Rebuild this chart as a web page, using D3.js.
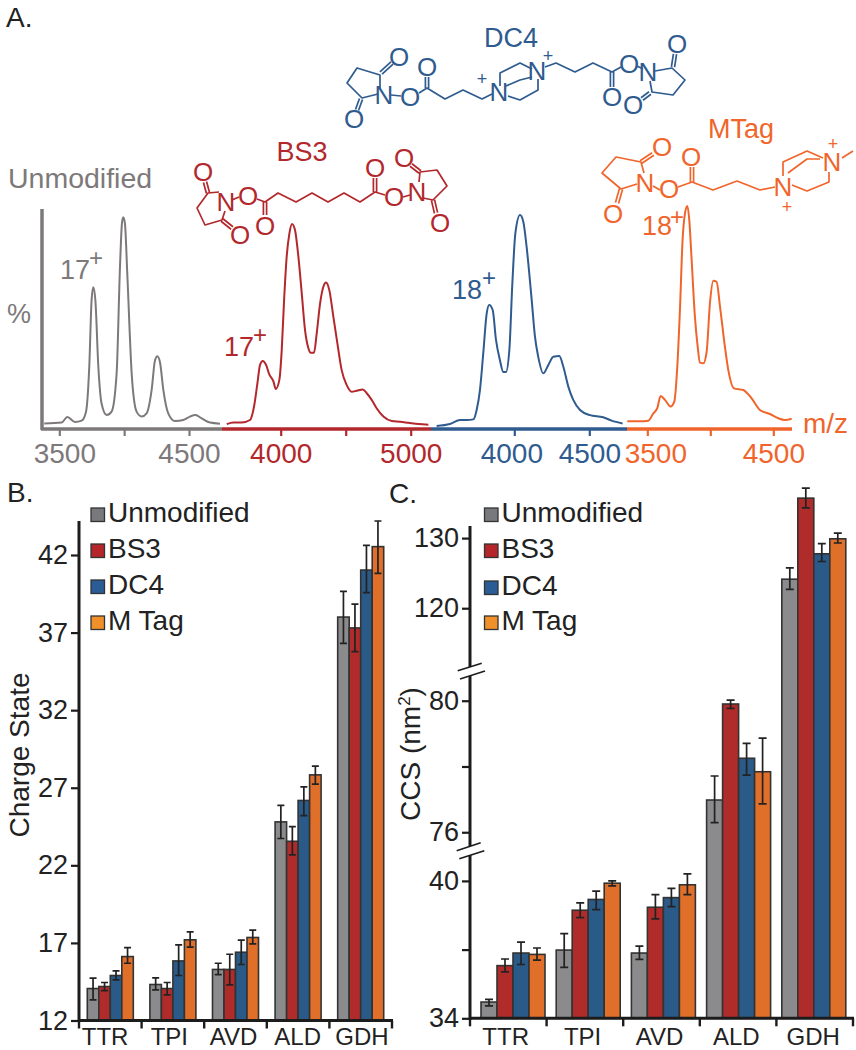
<!DOCTYPE html>
<html><head><meta charset="utf-8">
<script src="https://cdn.jsdelivr.net/npm/d3@7"></script>
<style>
html,body{margin:0;padding:0;background:#fff}
svg{display:block}
text{font-family:"Liberation Sans",Arial,sans-serif}
</style></head><body><svg id="c" width="856" height="1050"></svg>
<script>
// ---------- DATA ----------
const categories = ["TTR","TPI","AVD","ALD","GDH"];
const seriesNames = ["Unmodified","BS3","DC4","M Tag"];
const legendColors = ["#77797c","#b5262a","#2a5d95","#f0902a"];
const barColors = ["#8b8b8d","#b02c2a","#2a5a87","#e06f2a"];

// Panel B: charge state, one array per series, in category order
const chargeUnmodified = [14.06,14.32,15.29,24.80,38.00];
const chargeBS3        = [14.19,14.06,15.29,23.55,37.30];
const chargeDC4        = [14.90,15.84,16.40,26.18,41.03];
const chargeMTag       = [16.12,17.20,17.35,27.83,42.54];
const chargeHigh = [[14.73,14.75,15.69,25.87,39.66],[14.45,14.45,16.27,24.50,38.84],[15.20,16.88,17.18,27.06,42.62],[16.70,17.71,17.82,28.40,44.19]];
const chargeLow  = [[13.33,13.98,14.96,23.73,36.31],[13.93,13.65,14.30,22.67,35.77],[14.62,14.90,15.61,25.20,39.57],[15.69,16.73,16.94,27.23,40.82]];
const chargeTicks = [12,17,22,27,32,37,42];

// Panel C: CCS
const ccsUnmodified = [34.71,36.98,36.85,76.98,124.14];
const ccsBS3        = [36.30,38.72,38.85,79.90,135.70];
const ccsDC4        = [36.85,39.19,39.27,78.25,127.76];
const ccsMTag       = [36.79,39.90,39.83,77.84,129.90];
const ccsHigh = [[34.83,37.70,37.15,77.71,125.76],[36.59,39.04,39.40,80.02,137.14],[37.33,39.55,39.67,78.70,129.20],[37.07,40.00,40.31,78.86,130.70]];
const ccsLow  = [[34.54,36.22,36.57,76.29,122.70],[36.03,38.40,38.34,79.77,134.30],[36.35,38.75,38.88,77.74,126.66],[36.54,39.78,39.40,76.86,129.30]];
const ccsTicks = [34,37,40,76,78,80,120,130];
const ccsLabelled = [34,40,76,80,120,130];

// Panel A: spectra as [m/z, % intensity]
const specUnmodified = [[3384,2.6],[3518,3],[3562,5.6],[3621,3.3],[3672,3.9],[3706,8.1],[3731,29.1],[3749,60.2],[3762,66.2],[3778,60.2],[3801,29.1],[3826,11.9],[3865,6.5],[3903,8.1],[3942,26],[3968,75.9],[3983,96.1],[3993,98.9],[4006,96.1],[4024,72.8],[4058,26],[4096,8.1],[4135,5.8],[4173,7.3],[4212,18.3],[4238,32.1],[4256,34],[4276,31.3],[4302,18.3],[4340,7.3],[4392,3.7],[4456,4.2],[4507,5.8],[4551,6.5],[4597,5],[4662,3],[4739,2.5]];
const specBS3 = [[3585,2.3],[3636,3],[3700,3],[3764,4.2],[3795,10.5],[3821,21.4],[3841,30],[3862,31.8],[3887,30],[3913,25.4],[3944,22.3],[3962,18.7],[3990,23.1],[4008,37],[4026,60.2],[4046,80.5],[4067,91.4],[4087,95.8],[4110,93],[4136,80.5],[4162,63.4],[4187,46.3],[4213,37.7],[4231,35.6],[4256,35.6],[4277,44.7],[4303,58.7],[4328,66.5],[4349,68.5],[4374,64.9],[4405,52.5],[4436,40],[4469,27.5],[4508,20.5],[4546,17.4],[4585,17.9],[4631,18.5],[4662,16.7],[4700,13.6],[4738,9.7],[4790,5.8],[4854,3.7],[4918,3.4],[4982,2.9],[5059,2.3],[5136,2]];
const specDC4 = [[3482,1.4],[3571,2.3],[3638,4.2],[3682,4.2],[3727,4.5],[3749,8.9],[3771,18.2],[3793,35.3],[3816,54],[3833,57.9],[3856,55.6],[3878,41.6],[3904,32.2],[3927,26.6],[3944,26.6],[3967,36.9],[3987,68.1],[4007,91.4],[4038,100],[4060,96.9],[4082,85.2],[4116,60.2],[4138,43],[4160,33.6],[4193,26],[4227,29.9],[4260,33.8],[4300,34.1],[4327,29.1],[4360,19.8],[4393,13.6],[4438,8.9],[4504,6.5],[4593,5.5],[4649,3.9],[4722,2.6]];
const specMTag = [[3341,3.6],[3442,3.6],[3508,3.9],[3548,7.3],[3579,9.7],[3606,15.4],[3640,13.6],[3685,10.5],[3714,12.8],[3738,29.1],[3759,55.6],[3780,88.3],[3799,100.8],[3818,104.2],[3833,97.7],[3852,78.9],[3878,52.4],[3900,38.4],[3918,31],[3945,30.7],[3971,36.1],[3997,58.7],[4024,69.3],[4050,68.8],[4077,57.2],[4116,38.4],[4143,27.5],[4188,19],[4262,18.2],[4328,14.3],[4394,8.9],[4474,7],[4540,5],[4593,4.2],[4646,4.8]];

// ---------- SETUP ----------
const svg = d3.select("#c");
svg.append("rect").attr("width",856).attr("height",1050).attr("fill","#fff");
const INK = "#1c1c1c";
function label(g,x,y,t,size,fill,anchor){
  return g.append("text").attr("x",x).attr("y",y).attr("font-size",size).attr("fill",fill)
    .attr("text-anchor",anchor||"start").text(t);
}
label(svg,6,27,"A.",28,"#222");
label(svg,7,502,"B.",28,"#222");
label(svg,389,503,"C.",28,"#222");

// ---------- PANEL A ----------
const gray="#7d797b", red="#b2282c", blue="#2f5b8f", orange="#f0652b";
const yA = d3.scaleLinear().domain([0,100]).range([429,215]);
const panels = [
  {data:specUnmodified,color:gray, dom:[3500,4500],rng:[59.3,189],  ext:[41,222],  ticks:[3500,4000,4500],labels:[3500,4500],shift:{3500:5}},
  {data:specBS3,       color:red,  dom:[4000,5000],rng:[280.7,410.7],ext:[222,431],ticks:[4000,4500,5000],labels:[4000,5000],shift:{}},
  {data:specDC4,       color:blue, dom:[4000,4500],rng:[514.3,589.3],ext:[431,627],ticks:[4000,4500],     labels:[4000,4500],shift:{4000:-3}},
  {data:specMTag,      color:orange,dom:[3500,4500],rng:[647.3,773.3],ext:[627,792],ticks:[3500,4000,4500],labels:[3500,4500],shift:{3500:8}}
];
panels.forEach(p=>{
  const x=d3.scaleLinear().domain(p.dom).range(p.rng);
  svg.append("path").datum(p.data).attr("fill","none").attr("stroke",p.color).attr("stroke-width",2)
    .attr("stroke-linejoin","round")
    .attr("d",d3.line().x(d=>x(d[0])).y(d=>yA(d[1])).curve(d3.curveMonotoneX));
  const ax=svg.append("g").attr("transform","translate(0,429)")
    .call(d3.axisBottom(x).tickValues(p.ticks).tickSize(7).tickPadding(0)
      .tickFormat(d=>p.labels.includes(d)?String(d):""));
  ax.select(".domain").remove();
  ax.selectAll("line").attr("stroke",p.color).attr("stroke-width",2.2);
  ax.selectAll("text").attr("font-size",28).attr("fill",p.color).attr("y",34).attr("dy",0).attr("dx",d=>p.shift[d]||0)
    .style("font-family",'"Liberation Sans",Arial,sans-serif');
  svg.append("line").attr("x1",p.ext[0]).attr("x2",p.ext[1]).attr("y1",429).attr("y2",429)
    .attr("stroke",p.color).attr("stroke-width",3.5);
});
svg.append("line").attr("x1",42).attr("x2",42).attr("y1",209).attr("y2",430).attr("stroke",gray).attr("stroke-width",3.5);
label(svg,7,323,"%",27,gray);
label(svg,8,188,"Unmodified",28.5,gray);
label(svg,803,433,"m/z",28,orange);
[[60,279,96,258,gray,"17"],[224,356,260,335,red,"17"],[452,299,489,278,blue,"18"],[642,235,677,217,orange,"18"]].forEach(a=>{
  label(svg,a[0],a[1],a[5],27,a[4]);
  label(svg,a[2],a[3]+8,"+",24,a[4],"middle");
});

// Molecule drawings (pictures in the figure, not data)
function mol(color,chains,doubles,atoms,pluses){
  const g=svg.append("g").attr("stroke",color).attr("fill","none").attr("stroke-width",1.7).attr("stroke-linejoin","round");
  const ln=d3.line();
  chains.forEach(c=>g.append("path").attr("d",ln(c)));
  doubles.forEach(d=>{
    const dx=d[1][0]-d[0][0],dy=d[1][1]-d[0][1],L=Math.hypot(dx,dy),nx=-dy/L*1.6,ny=dx/L*1.6;
    [1,-1].forEach(s=>g.append("line").attr("x1",d[0][0]+s*nx).attr("y1",d[0][1]+s*ny).attr("x2",d[1][0]+s*nx).attr("y2",d[1][1]+s*ny));
  });
  atoms.forEach(a=>svg.append("text").attr("x",a[1]).attr("y",a[2]).attr("dy","0.36em").attr("text-anchor","middle")
    .attr("font-size",26).attr("fill",color).text(a[0]));
  (pluses||[]).forEach(a=>svg.append("text").attr("x",a[0]).attr("y",a[1]).attr("dy","0.33em").attr("text-anchor","middle")
    .attr("font-size",18).attr("fill",color).text("+"));
}
label(svg,511,47,"DC4",27,blue,"middle");
mol(blue,
 [[[380,88],[380,75],[357,68],[347,83],[362,98],[378,94]],[[391,95],[401,96]],[[419,93],[427,88],[445,99],[463,90],[482,99],[492,94]],
  [[500,86],[500,73],[520,63],[532,69]],[[506,86],[520,80],[532,77]],[[508,96],[520,100],[538,90],[538,79]],
  [[545,67],[556,63],[575,72],[593,63],[612,72],[621,67]],[[637,66],[643,69]],[[655,71],[672,68],[685,80],[673,95],[652,92],[650,81]]],
 [[[381,73],[392,63]],[[361,99],[357,110]],[[427,88],[427,77]],[[612,72],[612,87]],[[673,67],[675,54]],[[650,93],[642,99]]],
 [["O",399,57],["N",384,95],["O",354,119],["O",410,97],["O",427,67],["N",499,92],["N",537,71],["O",612,97],["O",629,64],["N",648,72],["O",677,44],["O",633,105]],
 [[482,79],[548,56]]);
label(svg,302,161,"BS3",27,red,"middle");
mol(red,
 [[[219,192],[208,193],[197,208],[205,225],[222,220],[225,211]],[[232,200],[239,197]],[[257,199],[265,202],[278,193],[296,202],[312,193],[328,202],[344,193],[360,202],[375,192],[385,195]],
  [[403,197],[410,195]],[[419,182],[420,172],[437,170],[447,186],[433,200],[423,198]]],
 [[[208,193],[205,182]],[[222,220],[232,228]],[[265,202],[265,215]],[[375,192],[375,178]],[[420,172],[411,165]],[[433,200],[436,213]]],
 [["O",203,172],["N",226,202],["O",240,235],["O",248,196],["O",265,226],["O",375,168],["O",394,197],["N",417,192],["O",404,158],["O",440,223]]);
label(svg,741,138,"MTag",27,orange,"middle");
mol(orange,
 [[[644,173],[641,162],[616,157],[602,173],[621,189],[637,184]],[[653,186],[660,190]],[[678,187],[692,182],[713,190],[737,181],[760,190],[775,187]],
  [[783,176],[783,162],[807,151],[823,158]],[[788,173],[807,159],[820,159]],[[792,185],[807,191],[829,182],[829,172]],[[842,158],[853,151]]],
 [[[641,162],[653,154]],[[621,189],[617,203]],[[692,182],[692,167]]],
 [["O",662,147],["N",645,183],["O",613,214],["O",669,189],["O",691,157],["N",783,187],["N",832,162]],
 [[787,207],[833,144]]);

// ---------- BAR PANELS ----------
function bars(cfg){
  const g=svg.append("g");
  const series=cfg.series;
  const inner=d3.scaleBand().domain(seriesNames).range([0,cfg.x.bandwidth()]);
  series.forEach((vals,s)=>{
    g.append("g").selectAll("rect").data(vals).join("rect")
      .attr("x",(d,i)=>cfg.x(categories[i])+inner(seriesNames[s]))
      .attr("width",inner.bandwidth())
      .attr("y",d=>cfg.y(d)).attr("height",d=>cfg.base-cfg.y(d))
      .attr("fill",barColors[s]).attr("stroke","#333").attr("stroke-width",1.6);
  });
  const cx=(i,s)=>cfg.x(categories[i])+inner(seriesNames[s])+inner.bandwidth()/2;
  series.forEach((vals,s)=>vals.forEach((v,i)=>{
    const hi=cfg.y(cfg.high[s][i]),lo=cfg.y(cfg.low[s][i]),X=cx(i,s);
    const p=d3.path();
    p.moveTo(X,hi);p.lineTo(X,lo);
    p.moveTo(X-cfg.cap,hi);p.lineTo(X+cfg.cap,hi);
    p.moveTo(X-cfg.cap,lo);p.lineTo(X+cfg.cap,lo);
    g.append("path").attr("d",p.toString()).attr("stroke","#222").attr("stroke-width",1.7).attr("fill","none");
  }));
  // y axis
  const ay=svg.append("g").attr("transform",`translate(${cfg.axisX},0)`)
    .call(d3.axisLeft(cfg.y).tickValues(cfg.ticks).tickSize(8).tickPadding(3).tickFormat(cfg.fmt));
  ay.select(".domain").remove();
  ay.selectAll("line").attr("stroke",INK).attr("stroke-width",2.2);
  ay.selectAll("text").attr("font-size",27).attr("fill","#222").style("font-family",'"Liberation Sans",Arial,sans-serif');
  cfg.axisSegs.forEach(s=>svg.append("line").attr("x1",cfg.axisX).attr("x2",cfg.axisX).attr("y1",s[0]).attr("y2",s[1])
    .attr("stroke",INK).attr("stroke-width",3));
  // x axis: labels on their own band scale, ticks at the band edges of the axis scale
  const ax=svg.append("g").attr("transform",`translate(0,${cfg.base})`)
    .call(d3.axisBottom(cfg.xLabel).tickSize(0).tickPadding(0));
  ax.select(".domain").remove();
  ax.selectAll("text").attr("font-size",24).attr("fill","#222").attr("y",1045-cfg.base).attr("dy",0)
    .style("font-family",'"Liberation Sans",Arial,sans-serif');
  const rg=cfg.xAxis.range();
  svg.append("line").attr("x1",rg[0]-1).attr("x2",rg[1]+1).attr("y1",cfg.base).attr("y2",cfg.base).attr("stroke",INK).attr("stroke-width",3);
  d3.range(categories.length+1).forEach(i=>{
    const X=rg[0]+i*cfg.xAxis.step();
    svg.append("line").attr("x1",X).attr("x2",X).attr("y1",cfg.base).attr("y2",cfg.base+8).attr("stroke",INK).attr("stroke-width",2.4);
  });
  // legend
  seriesNames.forEach((n,i)=>{
    svg.append("rect").attr("x",cfg.legX).attr("y",cfg.legY[i]-14).attr("width",13.5).attr("height",13.5)
      .attr("fill",legendColors[i]).attr("stroke","#333").attr("stroke-width",1.3);
    label(svg,cfg.legX+17,cfg.legY[i],n,28,"#222");
  });
}

// Panel B
const xB = d3.scaleBand().domain(categories).range([79,392]).paddingInner(0.265).paddingOuter(0.1325);
const xBaxis = d3.scaleBand().domain(categories).range([79,392]);
const xBlabel = d3.scaleBand().domain(categories).range([73,394]);
const yB = d3.scaleLinear().domain([12,42]).range([1020.5,555]);
bars({x:xB,xAxis:xBaxis,xLabel:xBlabel,y:yB,base:1020.5,series:[chargeUnmodified,chargeBS3,chargeDC4,chargeMTag],high:chargeHigh,low:chargeLow,
  cap:3.5,axisX:79,ticks:chargeTicks,fmt:d=>String(d),axisSegs:[[521,1022]],legX:91,legY:[522,558,594,630]});
svg.append("text").attr("transform","translate(29,755) rotate(-90)").attr("text-anchor","middle").attr("font-size",28).attr("fill","#222").text("Charge State");

// Panel C (broken axis: piecewise scale)
const xC = d3.scaleBand().domain(categories).range([475.4,851.4]).paddingInner(0.149).paddingOuter(0.0745);
const xCaxis = d3.scaleBand().domain(categories).range([470,853]);
const xClabel = d3.scaleBand().domain(categories).range([467.2,851.7]);
const yC = d3.scaleLinear().domain([34,41,75.6,80.7,111.6,140]).range([1018.3,858,845.4,677.7,667.1,468]);
bars({x:xC,xAxis:xCaxis,xLabel:xClabel,y:yC,base:1018.3,series:[ccsUnmodified,ccsBS3,ccsDC4,ccsMTag],high:ccsHigh,low:ccsLow,
  cap:4,axisX:470,ticks:ccsTicks,fmt:d=>ccsLabelled.includes(d)?String(d):"",axisSegs:[[526,667],[676,846],[855,1020]],legX:484.5,legY:[522,558,595,630]});
[[[457.7,670.7],[481.7,663.3]],[[460,679],[485,671]],[[456.7,850.7],[480.7,842.7]],[[459.3,858.7],[484.3,850.7]]].forEach(l=>
  svg.append("line").attr("x1",l[0][0]).attr("y1",l[0][1]).attr("x2",l[1][0]).attr("y2",l[1][1]).attr("stroke",INK).attr("stroke-width",1.6));
const ct=svg.append("text").attr("transform","translate(420,754) rotate(-90)").attr("text-anchor","middle").attr("font-size",28).attr("fill","#222");
ct.append("tspan").text("CCS (nm");
ct.append("tspan").attr("font-size",17).attr("dy",-10).text("2");
ct.append("tspan").attr("dy",10).text(")");
</script></body></html>
